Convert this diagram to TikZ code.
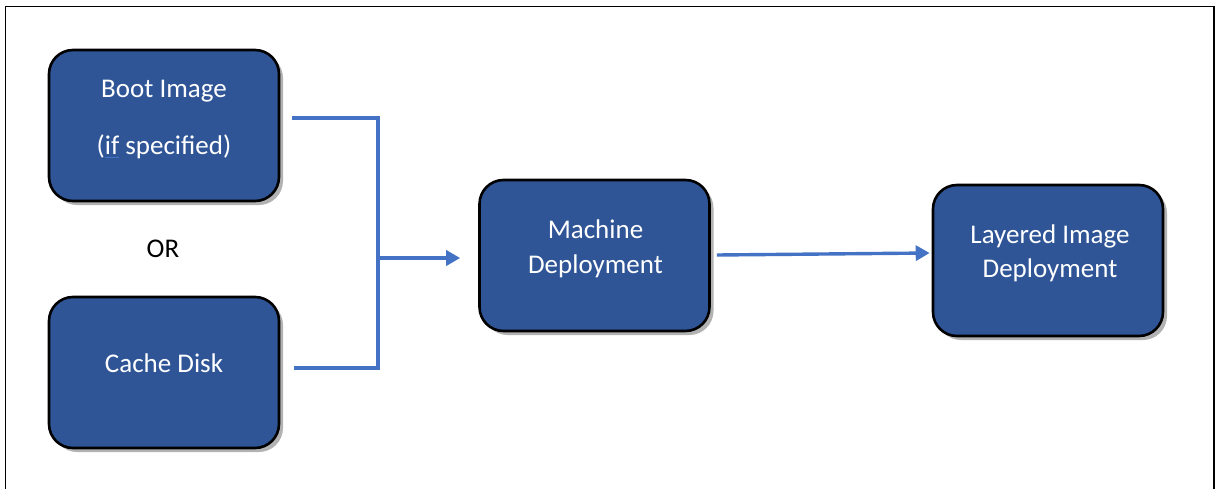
\documentclass[tikz,border=0pt]{standalone}
\usepackage{fontspec}
\setmainfont{Carlito}
\usetikzlibrary{arrows.meta,shadows,calc}
\definecolor{boxblue}{HTML}{2F5597}
\definecolor{lineblue}{HTML}{4472C4}
\begin{document}
\begin{tikzpicture}[x=1pt,y=-1pt,
  box/.style={draw=black, line width=2.6pt, fill=boxblue, rounded corners=24pt,
    minimum width=230pt, minimum height=151pt, inner sep=0pt,
    drop shadow={shadow xshift=4pt, shadow yshift=-4pt, opacity=0.3, fill=black}},
  txt/.style={text=white, font=\fontsize{27}{33}\selectfont, anchor=base, inner sep=0pt},
  conn/.style={draw=lineblue, line width=3.4pt},
  arr/.style={conn, -{Triangle[length=14pt,width=15pt]}}]
\useasboundingbox (0,0) rectangle (1216,488);
% frame
\draw[line width=1.4pt] (5.5,490) -- (5.5,6.5) -- (1214,6.5) -- (1214,490);
% boxes
\node[box] (boot)  at (164,125.5) {};
\node[box] (cache) at (164,372.5) {};
\node[box] (mach)  at (594.5,255.5) {};
\node[box] (layer) at (1048,260.5) {};
% texts
\node[txt] (boot1) at (164,97) {Boot Image};
\node[txt] (boot2) at (164,154) {({\setbox0\hbox{if}\rlap{\textcolor{lineblue}{\rule[-3.5pt]{\wd0}{1pt}}}\box0} specified)};
\node[txt, text=black] (or) at (163,257) {OR};
\node[txt] (cache1) at (164,372) {Cache Disk};
\node[txt] (mach1) at (595.5,238) {Machine};
\node[txt] (mach2) at (595.5,273) {Deployment};
\node[txt] (layer1) at (1050,243) {Layered Image};
\node[txt] (layer2) at (1050,277) {Deployment};
% connectors
\coordinate (j) at (378,258);
\draw[conn] ([shift={(12,-7.5)}]boot.east) -| (j) |- ([shift={(14,-4.5)}]cache.east);
\draw[arr] (j) -- ([xshift=-18pt,yshift=-2.5pt]mach.west);
\draw[arr] ([shift={(6,-0.5)}]mach.east) -- ([shift={(-2,-7.5)}]layer.west);
\end{tikzpicture}
\end{document}
